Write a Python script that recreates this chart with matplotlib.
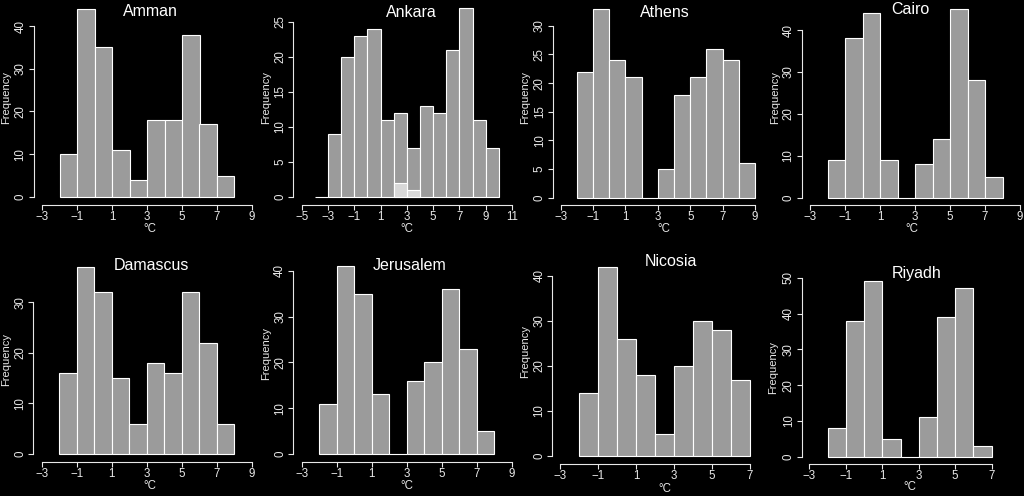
import matplotlib
matplotlib.use("Agg")
import matplotlib.pyplot as plt
import numpy as np

plt.rcParams['font.family'] = ['Liberation Sans', 'DejaVu Sans']

cities = ["Amman", "Ankara", "Athens", "Cairo",
          "Damascus", "Jerusalem", "Nicosia", "Riyadh"]
bin_start = [-2, -4, -2, -2, -2, -2, -2, -2]
amman = [10, 44, 35, 11, 4, 18, 18, 38, 17, 5]
ankara = [0, 9, 20, 23, 24, 11, 12, 7, 13, 12, 21, 27, 11, 7]
athens = [22, 33, 24, 21, 0, 5, 18, 21, 26, 24, 6]
cairo = [9, 38, 44, 9, 0, 8, 14, 45, 28, 5]
damascus = [16, 37, 32, 15, 6, 18, 16, 32, 22, 6]
jerusalem = [11, 41, 35, 13, 0, 16, 20, 36, 23, 5]
nicosia = [14, 42, 26, 18, 5, 20, 30, 28, 17]
riyadh = [8, 38, 49, 5, 0, 11, 39, 47, 3]
counts = [amman, ankara, athens, cairo, damascus, jerusalem, nicosia, riyadh]
# Ankara highlighted sub-bars
ankara_hl_bins = [2, 3]
ankara_hl_counts = [2, 1]
x_tick_range = [(-3, 9), (-5, 11), (-3, 9), (-3, 9),
                (-3, 9), (-3, 9), (-3, 7), (-3, 7)]
y_tick_step = [10, 5, 5, 10, 10, 10, 10, 10]

W, H = 1024, 496
# axes boxes in pixels: left, top, right, bottom
boxes = [(33.6, 1.4, 260.4, 204.5), (293.3, 0.2, 520.4, 204.6),
         (552.9, 1.0, 762.8, 205.3), (801.6, 1.6, 1028.4, 205.2),
         (33.3, 259.3, 260.4, 461.5), (293.3, 258.7, 520.4, 461.5),
         (552.4, 259.4, 757.6, 463.6), (802.0, 274.3, 999.0, 463.7)]
title_pos = [(150, 12), (411.7, 12.3), (665, 12.3), (910, 9.5),
             (151.7, 265), (410, 265.7), (671, 261.7), (916.7, 273.3)]
ylab_pos = [(6, 97), (266, 97), (525, 97), (775, 98),
            (6, 360), (266, 353), (525, 352), (773, 367)]
xlab_pos = [(150, 229), (406.7, 229), (664, 229), (911.7, 229),
            (150, 486), (406.7, 486), (665, 489), (910, 487)]

fg = '#e8e8e8'
bar_col = '#9b9b9b'
hl_col = '#d8d8d8'

fig = plt.figure(figsize=(W / 100, H / 100), dpi=100, facecolor='black')

for i, city in enumerate(cities):
    l, t, r, b = boxes[i]
    ax = fig.add_axes([l / W, 1 - b / H, (r - l) / W, (b - t) / H])
    ax.set_facecolor('black')
    c = counts[i]
    edges = bin_start[i] + np.arange(len(c))
    ax.bar(edges, c, width=1, align='edge', color=bar_col,
           edgecolor='white', linewidth=0.8)
    if city == "Ankara":
        ax.bar(ankara_hl_bins, ankara_hl_counts, width=1, align='edge',
               color=hl_col, edgecolor='white', linewidth=0.8)
    x0, x1 = x_tick_range[i]
    xr = x1 - x0
    ax.set_xlim(x0 - 0.04 * xr, x1 + 0.04 * xr)
    ymax = max(c)
    ax.set_ylim(-0.04 * ymax, ymax * 1.04)
    xt = np.arange(x0, x1 + 1, 2)
    ax.set_xticks(xt)
    ax.set_xticklabels([f"{v}".replace('-', '\u2212') for v in xt])
    step = y_tick_step[i]
    yt = np.arange(0, ymax * 1.04 + 1e-9, step)
    ax.set_yticks(yt)
    ax.set_yticklabels([str(int(v)) for v in yt], rotation=90, va='center')
    for s in ['top', 'right']:
        ax.spines[s].set_visible(False)
    for s in ['left', 'bottom']:
        ax.spines[s].set_color(fg)
        ax.spines[s].set_linewidth(0.8)
    ax.spines['bottom'].set_bounds(x0, x1)
    ax.spines['left'].set_bounds(0, yt[-1])
    ax.tick_params(colors=fg, labelcolor=fg, labelsize=8.3, length=3.6,
                   width=0.8, pad=1.5)
    ax.tick_params(axis='x', pad=0.8)
    fig.text(title_pos[i][0] / W, 1 - title_pos[i][1] / H, city,
             color='white', fontsize=11.5, ha='center', va='center')
    fig.text(ylab_pos[i][0] / W, 1 - ylab_pos[i][1] / H, "Frequency",
             color=fg, fontsize=8, ha='center', va='center', rotation=90)
    fig.text(xlab_pos[i][0] / W, 1 - xlab_pos[i][1] / H, "\u00b0C",
             color=fg, fontsize=8.3, ha='center', va='center')

fig.savefig("out.png", dpi=100, facecolor='black')
